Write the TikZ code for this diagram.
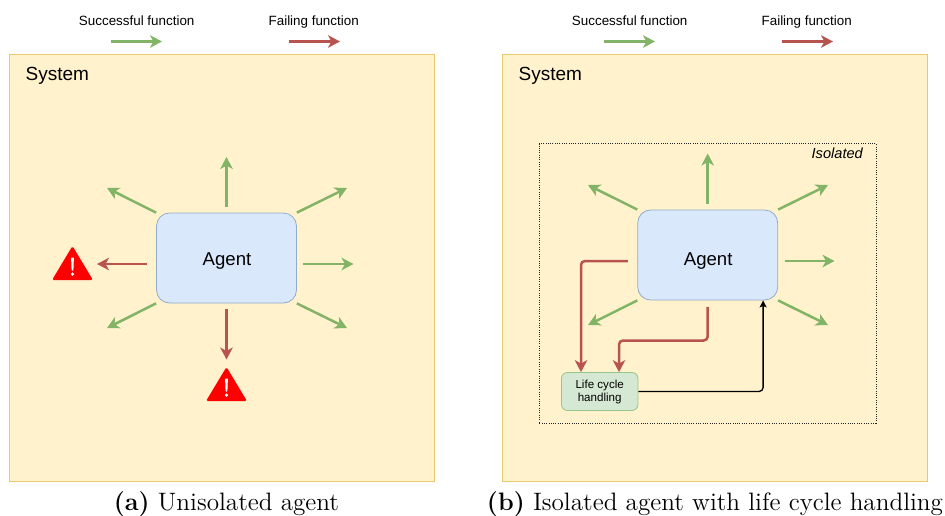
\documentclass[tikz,border=0pt]{standalone}
\usepackage{fontspec}
\setmainfont{Liberation Sans}
\newfontfamily\capfont{Latin Modern Roman}
\usetikzlibrary{arrows.meta,calc}
\definecolor{sysfill}{HTML}{FFF2CC}
\definecolor{sysline}{HTML}{E6CB6E}
\definecolor{agfill}{HTML}{DAE8FC}
\definecolor{agline}{HTML}{93ABCB}
\definecolor{okc}{HTML}{82B366}
\definecolor{badc}{HTML}{B85450}
\definecolor{lcfill}{HTML}{D5E8D4}
\definecolor{lcline}{HTML}{9AC58A}
\tikzset{
  x=1pt,y=-1pt,
  sysbox/.style={draw=sysline,fill=sysfill,line width=0.8pt,minimum width=425pt,minimum height=426.5pt,inner sep=0pt,anchor=north west},
  agentbox/.style={draw=agline,fill=agfill,line width=0.8pt,rounded corners=13pt,minimum width=140pt,minimum height=90pt,inner sep=0pt},
  agenttext/.style={font=\fontsize{18.6}{22}\selectfont,inner sep=0pt},
  lcbox/.style={draw=lcline,fill=lcfill,line width=0.8pt,rounded corners=6pt,minimum width=76.5pt,minimum height=38pt,inner sep=0pt},
  lctext/.style={align=center,inner sep=0pt,font=\fontsize{11.6}{13.6}\selectfont},
  isobox/.style={draw=black!85,dash pattern=on 1pt off 1.3pt,line width=0.7pt,minimum width=336.5pt,minimum height=279.5pt,inner sep=0pt,anchor=north west},
  toptext/.style={font=\fontsize{13.4}{16}\selectfont,inner sep=0pt,anchor=base},
  systext/.style={font=\fontsize{19}{23}\selectfont,inner sep=0pt,anchor=west},
  isotext/.style={font=\itshape\fontsize{14.6}{17}\selectfont,inner sep=0pt,anchor=east},
  captext/.style={font=\capfont\fontsize{12}{14}\selectfont,inner sep=0pt,scale=2.1,transform shape},
  okarrow/.style={draw=okc,line width=2.5pt,-{Stealth[length=12pt,width=12.5pt,inset=3.5pt]}},
  badarrow/.style={draw=badc,line width=2.5pt,rounded corners=4pt,-{Stealth[length=12pt,width=12.5pt,inset=3.5pt]}},
  blackarrow/.style={draw=black,line width=1.3pt,rounded corners=4pt,-{Stealth[length=7pt,width=7pt,inset=1.5pt]}},
  warn/.pic={
    \fill[red,rounded corners=1.6pt,line width=0pt] (0,-0.5) -- (20.5,33.6) -- (-20.5,33.6) -- cycle;
    \fill[white,rounded corners=0.6pt] (-1.4,11) -- (1.4,11) -- (0.9,24) -- (-0.9,24) -- cycle;
    \fill[white] (0,27.6) circle (1.7pt);
  }
}
\begin{document}
\begin{tikzpicture}
\useasboundingbox (0,0) rectangle (945,515);

% ---------- left panel ----------
\node[toptext] (ls) at (136.7,25.8) {Successful function};
\node[toptext] (lf) at (313.7,25.8) {Failing function};
\coordinate (lsa) at (110.5,41.5); \coordinate (lsb) at (162,41.5);
\coordinate (lfa) at (288.5,41.5); \coordinate (lfb) at (340,41.5);
\draw[okarrow] (lsa) -- (lsb);
\draw[badarrow] (lfa) -- (lfb);
\node[sysbox] (ls1) at (9.2,54) {};
\node[systext] (lsys) at (25.5,75.7) {System};
\node[agentbox] (a) at (226.5,258) {};
\node[agenttext] (at) at (227,261) {Agent};
\coordinate (an) at (226.5,157); \coordinate (ane) at (347,188);
\coordinate (anw) at (107,188); \coordinate (ae) at (353.5,264);
\coordinate (aw) at (97,264); \coordinate (asw) at (107,328);
\coordinate (ase) at (347,328); \coordinate (as) at (226.5,359.5);
\draw[okarrow] ([yshift=6pt]a.north) -- (an);
\draw[okarrow] (a.north east) -- (ane);
\draw[okarrow] (a.north west) -- (anw);
\draw[okarrow] ($(a.east)+(6.5,6)$) -- (ae);
\draw[badarrow] ($(a.west)+(-9.5,6)$) -- (aw);
\draw[okarrow] (a.south west) -- (asw);
\draw[okarrow] (a.south east) -- (ase);
\draw[badarrow] ([yshift=-6pt]a.south) -- (as);
\pic at (72.5,246.5) {warn};
\pic at (226.5,367.5) {warn};
\node[captext] (ca) at (226.5,504.5) {\textbf{(a)} Unisolated agent};

% ---------- right panel ----------
\node[toptext] (rs) at (629.7,25.8) {Successful function};
\node[toptext] (rf) at (806.7,25.8) {Failing function};
\coordinate (rsa) at (603.5,41.5); \coordinate (rsb) at (655,41.5);
\coordinate (rfa) at (781.5,41.5); \coordinate (rfb) at (833,41.5);
\draw[okarrow] (rsa) -- (rsb);
\draw[badarrow] (rfa) -- (rfb);
\node[sysbox] (rs1) at (502.2,54) {};
\node[systext] (rsys) at (518.5,75.7) {System};
\node[isobox] (iso) at (539,143.2) {};
\node[isotext] (isot) at (863,153.5) {Isolated};
\node[agentbox] (b) at (707.7,255) {};
\node[agenttext] (bt) at (708.2,261) {Agent};
\node[lcbox] (lc) at (599.7,391.5) {};
\node[lctext] (lct) at (599.7,392) {Life cycle\\handling};
\coordinate (bn) at (707.7,153.5); \coordinate (bne) at (828,185);
\coordinate (bnw) at (588,185); \coordinate (be) at (834.5,261);
\coordinate (bsw) at (588,325); \coordinate (bse) at (828,325);
\draw[okarrow] ([yshift=6pt]b.north) -- (bn);
\draw[okarrow] (b.north east) -- (bne);
\draw[okarrow] (b.north west) -- (bnw);
\draw[okarrow] ($(b.east)+(6.5,6)$) -- (be);
\draw[okarrow] (b.south west) -- (bsw);
\draw[okarrow] (b.south east) -- (bse);
\draw[badarrow] ($(b.west)+(-9.5,6)$) -| ([xshift=-18.7pt]lc.north);
\draw[badarrow] ([yshift=-6.5pt]b.south) |- (619,340.5) -- ([xshift=19.3pt]lc.north);
\draw[blackarrow] (lc.east) -| ([xshift=-15pt]b.south east);
\node[captext] (cb) at (715,504.5) {\textbf{(b)} Isolated agent with life cycle handling};
\end{tikzpicture}
\end{document}
